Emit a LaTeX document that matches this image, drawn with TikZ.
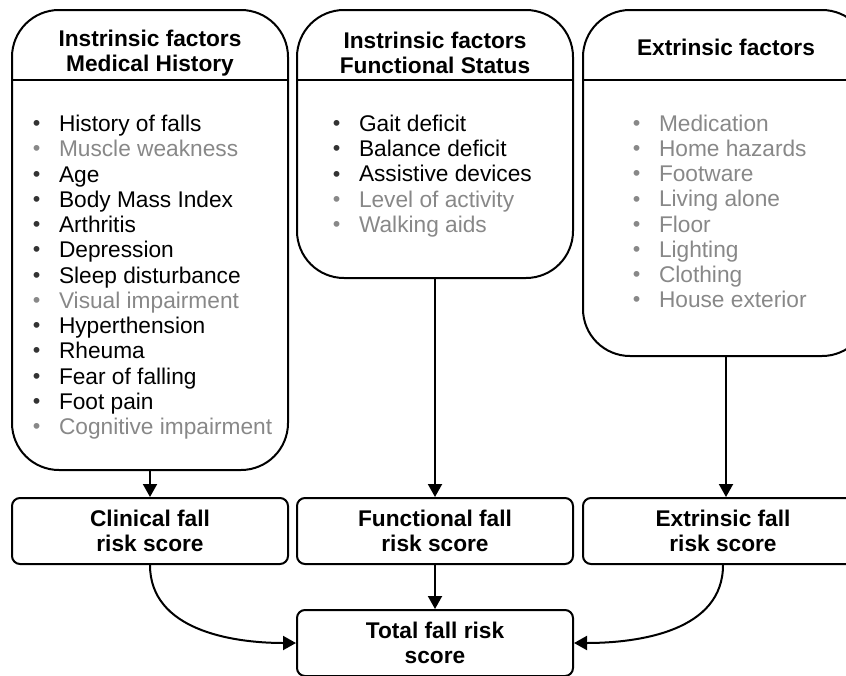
\documentclass[tikz,border=0pt]{standalone}
\usepackage{fontspec}
\setmainfont{Liberation Sans}
\usepackage{xcolor}
\usepackage{tikz}
\usetikzlibrary{arrows.meta,calc}
\definecolor{faded}{HTML}{888888}
\definecolor{dot}{HTML}{333333}
\newcommand{\bul}[1]{\llap{\textcolor{#1}{\raisebox{0.9pt}{\fontsize{21.5}{21.5}\selectfont\textbullet}}\hspace{18.5pt}}}

\begin{document}
\begin{tikzpicture}[x=1pt,y=-1pt,line width=2pt,
  bigbox/.style={draw, rectangle, rounded corners=47pt, minimum width=276pt},
  scorebox/.style={draw, rectangle, rounded corners=8pt, minimum width=276pt,
    minimum height=66pt, align=center, font=\fontsize{22.7}{25}\selectfont\bfseries},
  title/.style={align=center, font=\fontsize{22.7}{25}\selectfont\bfseries},
  item/.style={anchor=base west, inner sep=0pt, font=\fontsize{22.7}{25}\selectfont},
  arr/.style={-{Triangle[width=14pt,length=13pt]}}]
\useasboundingbox (0,0) rectangle (846,675);
\clip (0,0) rectangle (846,675);

% factor boxes
\node[bigbox, minimum height=460pt] (hist) at (150,240) {};
\node[bigbox, minimum height=268pt] (func) at (435,144) {};
\node[bigbox, minimum width=286pt, minimum height=346pt] (extr) at (726,183) {};
\foreach \b in {hist,func,extr}
  \draw ([yshift=-71pt]\b.north west) -- ([yshift=-71pt]\b.north east);

\node[title] (histtitle) at (150,53) {Instrinsic factors\\Medical History};
\node[title] (functitle) at (435,53) {Instrinsic factors\\Functional Status};
\node[title] (extrtitle) at (726,47) {Extrinsic factors};

% lists
\foreach \txt/\col/\bc [count=\i] in {History of falls/black/dot, Muscle weakness/faded/faded,
  Age/black/dot, Body Mass Index/black/dot, Arthritis/black/dot, Depression/black/dot,
  Sleep disturbance/black/dot, Visual impairment/faded/faded, Hyperthension/black/dot,
  Rheuma/black/dot, Fear of falling/black/dot, Foot pain/black/dot,
  Cognitive impairment/faded/faded}
  \node[item, text=\col] (mh\i) at (58,{131.5+(\i-1)*25.25}) {\bul{\bc}\txt};
\foreach \txt/\col/\bc [count=\i] in {Gait deficit/black/dot, Balance deficit/black/dot,
  Assistive devices/black/dot, Level of activity/faded/faded, Walking aids/faded/faded}
  \node[item, text=\col] (fs\i) at (358,{131.5+(\i-1)*25.2}) {\bul{\bc}\txt};
\foreach \txt [count=\i] in {Medication, Home hazards, Footware, Living alone,
  Floor, Lighting, Clothing, House exterior}
  \node[item, text=faded] (ef\i) at (658,{131.5+(\i-1)*25.15}) {\bul{faded}\txt};

% scores
\node[scorebox] (clin) at (150,531) {Clinical fall\\risk score};
\node[scorebox] (funcs) at (435,531) {Functional fall\\risk score};
\node[scorebox, minimum width=280pt] (extrs) at (723,531) {Extrinsic fall\\risk score};
\node[scorebox] (total) at (435,643) {Total fall risk\\score};

% arrows
\draw[arr] (hist.south) -- (clin.north);
\draw[arr] (func.south) -- (funcs.north);
\draw[arr] (extr.south) -- (extr.south |- extrs.north);
\draw[arr] (funcs.south) -- (total.north);
\draw[arr] (clin.south) to[out=-90,in=180] (total.west);
\draw[arr] (extrs.south) to[out=-90,in=0] (total.east);
\end{tikzpicture}
\end{document}
